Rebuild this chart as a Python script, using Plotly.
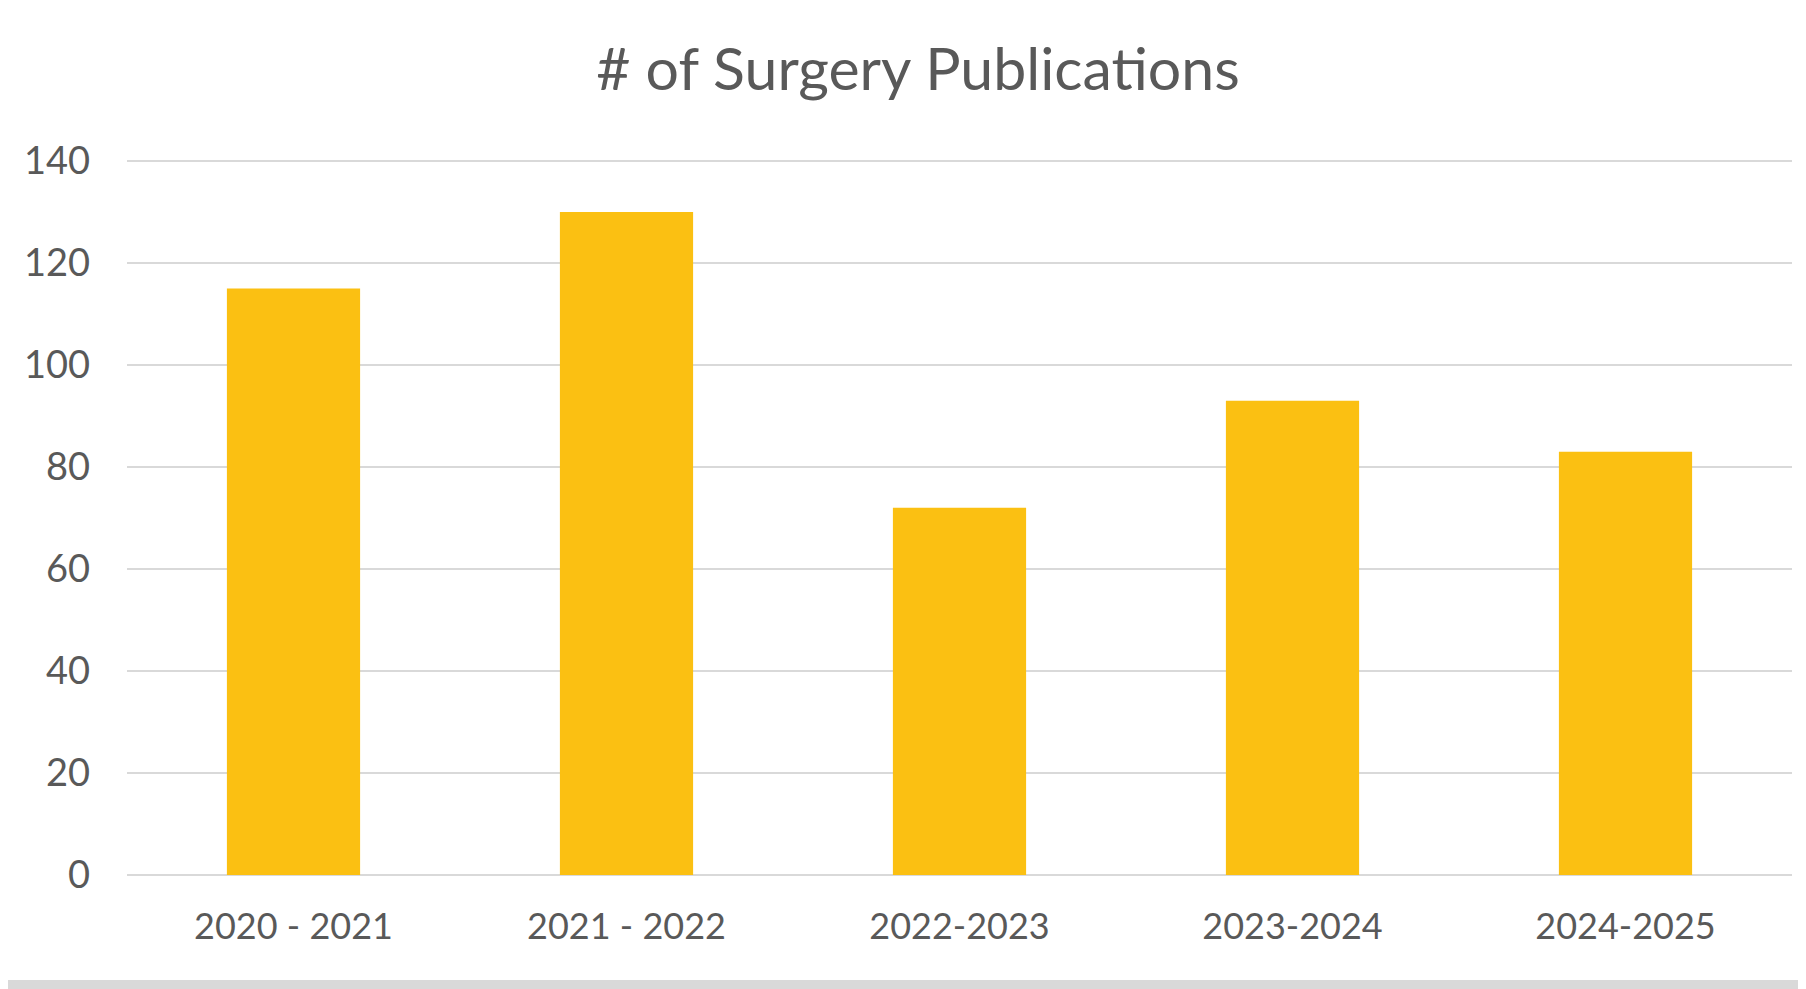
import plotly.graph_objects as go

categories = ["2020 - 2021", "2021 - 2022", "2022-2023", "2023-2024", "2024-2025"]
publications = [115, 130, 72, 93, 83]
y_ticks = [0, 20, 40, 60, 80, 100, 120, 140]

# page has 8px default body margin; size figure to fit in the window
W, H = 1790, 981
Y_MAX = 141
ML, MR, MB = 119, 6, 114
MT = round(153 - 714 * (Y_MAX - 140) / 140)
FONT = "Lato, Open Sans, sans-serif"
TXT = "#595959"

fig = go.Figure(go.Bar(x=categories, y=publications, marker_color="#FBC012",
                       marker_line_width=0))

plot_h = H - MT - MB
plot_w = W - ML - MR
fig.update_layout(
    width=W, height=H,
    margin=dict(l=ML, r=MR, t=MT, b=MB),
    paper_bgcolor="white", plot_bgcolor="white",
    bargap=0.6,
    showlegend=False,
    title=dict(text="# of Surgery Publications", x=910 / W, xref="container", xanchor="center",
               y=1 - 61 / H, yanchor="middle", yref="container",
               font=dict(family=FONT, size=59, color=TXT)),
    font=dict(family=FONT, color=TXT),
    xaxis=dict(showgrid=False, showline=False, zeroline=False, ticks="",
               tickfont=dict(family=FONT, size=36, color=TXT),
               ticklabelstandoff=27),
    yaxis=dict(range=[0, Y_MAX], tickvals=y_ticks, showgrid=True, gridcolor="#D9D9D9",
               gridwidth=2, zeroline=True, zerolinecolor="#D9D9D9", zerolinewidth=2,
               showline=False, ticks="",
               tickfont=dict(family=FONT, size=38, color=TXT),
               ticklabelstandoff=36),
    shapes=[dict(type="rect", xref="paper", yref="paper",
                 x0=-ML / plot_w, x1=1 + MR / plot_w,
                 y0=-(H - (MT + plot_h)) / plot_h, y1=-(972 - (MT + plot_h)) / plot_h,
                 fillcolor="#D9D9D9", line_width=0, layer="below")],
)

fig.write_html("out.html")
